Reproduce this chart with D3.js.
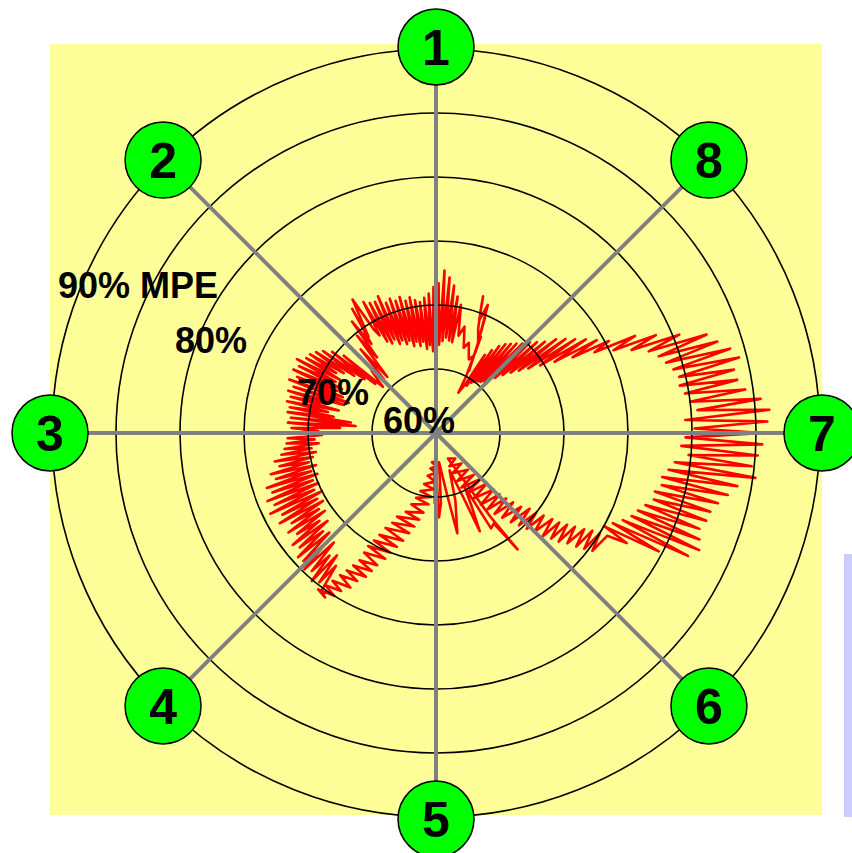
<!DOCTYPE html>
<html>
<head>
<meta charset="utf-8">
<script src="https://cdn.jsdelivr.net/npm/d3@7"></script>
<style>
  body { margin: 0; background: #fff; }
  svg { display: block; }
  text { font-family: Arial, "Liberation Sans", sans-serif; font-weight: bold; }
</style>
</head>
<body>
<div id="chart"></div>
<script>
// spokes, numbered counter-clockwise from the top (angles clockwise from 12 o'clock)
const spokeNames = ['1', '2', '3', '4', '5', '6', '7', '8'];
const spokeAngles = [0, 315, 270, 225, 180, 135, 90, 45];

// concentric rings, every 5 %
const ringValues = [65, 70, 75, 80, 85, 90];
const ringLabels = ['60%', '70%', '80%', '90% MPE'];
const ringLabelValues = [60, 70, 80, 90];

// measured trace: [angle in degrees, % MPE], in drawing order
const mpeTrace = [
  // lower-left arm, out from the centre
  [178, 62.2], [188, 62.3], [179, 62.6], [189, 62.8], [180, 63.1], [191, 63.4], [181, 63.8], [193, 64.1],
  [182, 64.4], [195, 64.7], [184, 65.0], [197, 65.3], [186, 65.6], [199, 65.9], [189, 66.3], [201, 66.6],
  [191, 66.9], [205, 67.2], [193, 67.5], [206, 67.8], [195, 68.1], [208, 68.4], [197, 68.8], [209, 69.1],
  [199, 69.4], [210, 69.7], [201, 70.0], [211, 70.3], [202, 70.6], [211, 70.9], [204, 71.3], [211, 71.6],
  [205, 71.9], [212, 72.2], [206, 72.5], [213, 72.8], [208, 73.1], [214, 73.4], [209, 73.8], [215, 74.1],
  [211, 74.4], [216, 74.7], [212, 75.0], [217, 75.3], [214, 75.5],
  // left side
  [216, 75.2], [217, 73.0], [218, 74.8], [219, 72.3], [220, 75.1], [221, 72.7], [222, 74.5], [223, 71.7],
  [224, 74.8], [225, 72.2], [226, 74.4], [227, 71.4], [228, 74.5], [229, 71.7], [230, 73.9], [231, 70.9],
  [232, 74.2], [233, 71.4], [234, 73.4], [235, 70.6], [236, 73.9], [237, 70.9], [238, 73.3], [239, 70.3],
  [240, 74.1], [241, 70.6], [242, 73.6], [243, 70.0], [244, 74.4], [245, 70.5], [246, 73.8], [247, 70.0],
  [248, 74.2], [249, 70.3], [250, 73.6], [251, 69.8], [252, 73.9], [253, 70.2], [254, 73.0], [255, 69.7],
  [256, 73.3], [257, 70.2], [258, 72.5], [259, 69.8], [260, 72.8], [261, 69.5], [262, 72.2], [263, 69.8],
  [264, 71.9], [265, 69.2], [266, 71.7], [267, 69.5], [268, 71.6], [269, 68.9], [270, 71.4],
  [271, 69.2], [272, 71.3], [273, 67.5], [274, 71.6], [275, 66.3], [276, 71.4], [277, 66.7], [278, 71.7],
  [279, 68.1], [280, 71.6], [281, 68.6], [282, 71.9], [283, 67.8], [284, 71.7], [285, 68.8], [286, 72.0],
  [287, 67.5], [288, 71.7], [289, 67.2], [290, 72.2], [291, 67.8], [292, 71.7], [293, 68.4], [294, 72.2],
  [295, 68.1], [296, 71.9], [297, 68.8], [298, 72.3], [299, 68.6], [300, 71.7], [301, 69.1], [302, 71.6],
  [303, 68.6], [304, 71.3], [305, 67.8], [306, 70.9], [307, 67.0], [308, 70.3], [309, 66.1], [310, 69.4],
  [311, 65.5], [314, 67.0], [316, 65.9], [318, 68.8], [319, 65.8], [321, 69.8], [322, 67.5], [323, 70.9],
  [324, 68.6], [326, 71.7], [325, 69.2], [328, 72.3], [329, 69.4],
  // upper-left lobe
  [330, 68.8], [331, 71.7], [332, 68.1], [333, 71.4], [334, 67.8], [335, 71.3], [336, 68.0], [337, 71.6],
  [338, 67.5], [339, 70.9], [340, 67.7], [341, 71.1], [342, 67.3], [343, 70.8], [344, 67.5], [345, 71.0],
  [346, 67.0], [347, 70.6], [348, 67.3], [349, 70.8], [350, 66.9], [351, 70.5], [352, 67.2], [353, 70.3],
  [354, 66.6], [355, 70.6], [356, 66.9], [357, 70.9], [358, 66.4], [359, 71.4], [360, 66.7],
  // top peak and the V
  [1, 71.7], [2, 66.9], [3, 72.7], [4, 67.2], [5, 72.2], [6, 67.5], [7, 71.6], [8, 67.3],
  [9, 70.8], [10, 67.2], [11, 70.2], [13, 67.8], [15, 68.6], [18, 67.0], [20, 67.5], [24, 66.3],
  [26, 66.7], [28, 65.5], [25, 67.8], [22, 68.8], [20, 70.2], [19, 71.3], [21, 69.4], [22, 70.8],
  [24, 68.6], [23, 69.8], [26, 67.0], [25, 68.3], [28, 65.0], [29, 63.6],
  // arm out to the right lobe
  [31, 64.5], [32, 67.2], [33, 64.4], [34, 67.8], [35, 64.8], [36, 68.4], [37, 65.0], [38, 68.8],
  [39, 65.2], [40, 69.1], [41, 65.3], [42, 69.4], [43, 65.5], [44, 69.7], [45, 65.8], [46, 70.2],
  [47, 66.3], [48, 70.6], [49, 66.9], [50, 71.1], [51, 67.5], [52, 71.9], [53, 68.1], [54, 72.5],
  [55, 68.8], [56, 73.1], [57, 69.7], [58, 73.8], [59, 70.8], [60, 74.5], [61, 72.2], [62, 75.3],
  [63, 73.9], [64, 77.3], [65, 75.3], [66, 78.8], [67, 76.6], [68, 80.5], [69, 77.8], [70, 82.5],
  // right lobe
  [71, 78.4], [72, 83.1], [73, 78.8], [74, 83.9], [75, 79.2], [76, 84.4], [77, 79.5], [78, 83.8],
  [79, 79.4], [80, 83.9], [81, 79.7], [82, 84.4], [83, 80.0], [84, 85.5], [85, 80.5], [86, 86.1],
  [87, 79.5], [88, 85.9], [89, 80.2], [90, 85.6], [91, 79.5], [92, 85.5], [93, 79.2], [94, 85.2],
  [95, 79.8], [96, 84.8], [97, 78.8], [98, 85.2], [99, 78.4], [100, 83.9], [101, 78.0], [102, 83.3],
  [103, 78.1], [104, 82.7], [105, 77.7], [106, 82.3], [107, 77.8], [108, 82.2], [109, 77.3], [110, 81.9],
  [111, 76.9], [112, 82.2], [113, 76.6], [114, 82.5], [115, 76.1], [116, 81.9], [117, 75.5], [118, 79.7],
  [119, 75.0], [120, 77.2],
  // return arm towards the centre
  [121, 75.6], [127, 75.3], [121.5, 75.0], [128, 74.7], [122, 74.4], [129, 74.1], [123, 73.8], [130, 73.4],
  [124, 73.1], [131.5, 72.8], [125, 72.5], [132.5, 72.2], [126, 71.9], [134, 71.6], [126.5, 71.3], [135, 70.9],
  [127.5, 70.6], [136.5, 70.3], [128.5, 70.0], [138, 69.7], [129, 69.4], [140, 69.1], [131, 68.8], [142, 68.4],
  [132, 68.1], [144, 67.8], [133, 67.5], [146, 67.2], [134, 66.9], [148, 66.6], [134.5, 66.3], [150, 65.9],
  [135, 65.6], [153, 65.3], [136, 65.0], [155, 64.7], [138, 64.4], [156, 64.1], [139, 63.8], [158, 63.4],
  [140, 63.1], [158, 62.8], [143, 62.5], [155, 62.2],
  // short spikes below the centre
  [149, 64.7], [147, 67.8], [145, 71.1], [146, 69.8], [147.5, 68.4], [150, 68.6], [152, 64.7], [154, 66.3],
  [156, 68.4], [157, 65.5], [160, 63.1], [164, 65.5], [168, 68.0], [170, 64.7], [174, 62.3], [176, 65.5],
  [178, 66.6], [179, 63.9], [181, 65.5], [182, 63.1], [180, 62.2]
];

const width = 852, height = 853;
const cx = 436, cy = 433;

const svg = d3.select('#chart').append('svg')
  .attr('width', width)
  .attr('height', height);

// radial scale: 60 % at the centre, 90 % at the outer ring
const rScale = d3.scaleLinear().domain([60, 90]).range([0, 384]);
const aScale = d3.scaleLinear().domain([0, 360]).range([0, 2 * Math.PI]);

// yellow plot area
svg.append('rect')
  .attr('x', 50).attr('y', 44)
  .attr('width', 772).attr('height', 771)
  .attr('fill', '#ffff99');

// lavender strip at the right edge
svg.append('rect')
  .attr('x', 844).attr('y', 554)
  .attr('width', 10).attr('height', 263)
  .attr('fill', '#ccccff');

const g = svg.append('g').attr('transform', `translate(${cx},${cy})`);

// red trace
const line = d3.lineRadial()
  .angle(d => aScale(d[0]))
  .radius(d => rScale(d[1]));

g.append('path')
  .datum(mpeTrace)
  .attr('d', line)
  .attr('fill', 'none')
  .attr('stroke', '#ff0000')
  .attr('stroke-width', 2.6)
  .attr('stroke-linejoin', 'round');

// rings
g.selectAll('.ring')
  .data(ringValues)
  .join('circle')
  .attr('class', 'ring')
  .attr('r', d => rScale(d))
  .attr('fill', 'none')
  .attr('stroke', '#000')
  .attr('stroke-width', 1.6);

const labelR = rScale(90) + 2;
const spokes = spokeNames.map((n, i) => ({ name: n, angle: aScale(spokeAngles[i]) }));

// spokes
g.selectAll('.spoke')
  .data(spokes)
  .join('line')
  .attr('class', 'spoke')
  .attr('x1', 0).attr('y1', 0)
  .attr('x2', d => labelR * Math.sin(d.angle))
  .attr('y2', d => -labelR * Math.cos(d.angle))
  .attr('stroke', '#808080')
  .attr('stroke-width', 4);

// ring labels (placed just inside their ring, up and to the left)
const labelOffsets = [[-53, 0], [-11, -28], [-5, -80], [6, -135]];
g.selectAll('.ring-label')
  .data(ringLabels)
  .join('text')
  .attr('class', 'ring-label')
  .attr('x', (d, i) => -rScale(ringLabelValues[i]) + labelOffsets[i][0])
  .attr('y', (d, i) => labelOffsets[i][1])
  .attr('font-size', 36)
  .attr('fill', '#000')
  .text(d => d);

// numbered green markers
const marker = g.selectAll('.marker')
  .data(spokes)
  .join('g')
  .attr('class', 'marker')
  .attr('transform', d => `translate(${labelR * Math.sin(d.angle)},${-labelR * Math.cos(d.angle)})`);

marker.append('circle')
  .attr('r', 38)
  .attr('fill', '#00ff00')
  .attr('stroke', '#000')
  .attr('stroke-width', 1.5);

marker.append('text')
  .attr('text-anchor', 'middle')
  .attr('dy', '0.36em')
  .attr('font-size', 50)
  .attr('fill', '#000')
  .text(d => d.name);
</script>
</body>
</html>
